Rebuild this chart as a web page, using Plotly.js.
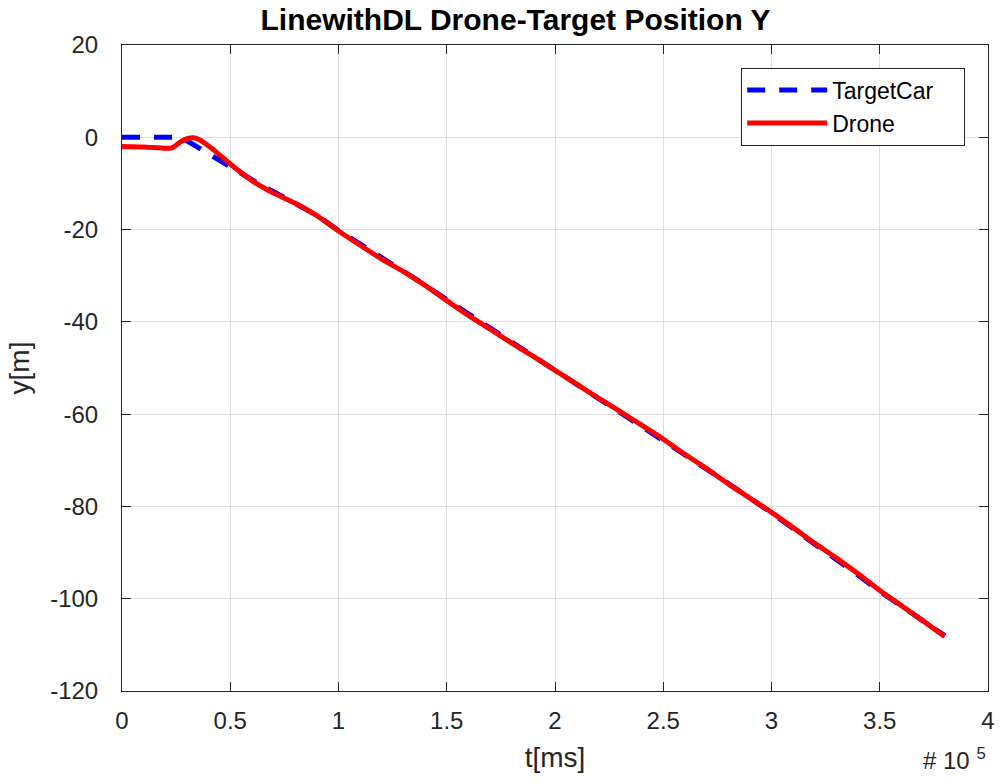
<!DOCTYPE html>
<html><head><meta charset="utf-8">
<script src="https://cdn.plot.ly/plotly-3.0.1.min.js"></script>
<style>html,body{margin:0;padding:0;background:#fff}#chart{width:1003px;height:780px}</style>
</head><body><div id="chart"></div>
<script>
// time in units of 1e5 ms
const targetT = [0, 0.1, 0.2, 0.27, 0.33, 0.4, 0.5, 0.6, 0.7, 0.8, 0.9, 1.0, 1.1, 1.2, 1.3, 1.4, 1.5, 1.6, 1.7, 1.8, 1.9, 2.0, 2.1, 2.2, 2.3, 2.4, 2.5, 2.6, 2.7, 2.8, 2.9, 3.0, 3.1, 3.2, 3.3, 3.4, 3.5, 3.6, 3.7, 3.8];
const targetY = [0, 0, 0, 0, -1.6, -3.6, -6.4, -9.2, -11.8, -14.2, -16.9, -20.2, -23.1, -26.1, -29.0, -32.0, -35.2, -38.3, -41.4, -44.5, -47.6, -50.6, -53.6, -56.6, -59.6, -62.6, -65.7, -68.8, -71.9, -75.0, -78.1, -81.4, -84.8, -88.1, -91.4, -94.9, -98.4, -101.7, -104.9, -108.0];
const droneT = [0, 0.1, 0.2, 0.23, 0.27, 0.3, 0.33, 0.36, 0.4, 0.45, 0.5, 0.6, 0.7, 0.8, 0.9, 1.0, 1.1, 1.2, 1.3, 1.4, 1.5, 1.6, 1.7, 1.8, 1.9, 2.0, 2.1, 2.2, 2.3, 2.4, 2.5, 2.6, 2.7, 2.8, 2.9, 3.0, 3.1, 3.2, 3.3, 3.4, 3.5, 3.6, 3.7, 3.8];
const droneY = [-2.0, -2.1, -2.4, -2.3, -1.0, -0.3, -0.1, -0.6, -1.9, -3.8, -5.8, -9.4, -12.1, -14.3, -17.0, -20.3, -23.4, -26.4, -29.1, -32.1, -35.4, -38.6, -41.6, -44.6, -47.5, -50.5, -53.5, -56.5, -59.4, -62.4, -65.4, -68.7, -71.8, -75.1, -78.2, -81.3, -84.6, -88.0, -91.2, -94.6, -98.2, -101.5, -104.8, -108.2];
const xTicks = [0, 0.5, 1, 1.5, 2, 2.5, 3, 3.5, 4];
const xTickText = ['0', '0.5', '1', '1.5', '2', '2.5', '3', '3.5', '4'];
const yTicks = [20, 0, -20, -40, -60, -80, -100, -120];
const yTickText = ['20', '0', '-20', '-40', '-60', '-80', '-100', '-120'];

const font = 'Liberation Sans, Arial, sans-serif';
const pad = '\u00a0\u00a0\u00a0\u00a0';
const data = [
  {x: targetT, y: targetY, type: 'scatter', mode: 'lines', name: 'TargetCar' + pad,
   line: {color: '#0000ff', width: 5, dash: '18px,14px'}},
  {x: droneT, y: droneY, type: 'scatter', mode: 'lines', name: 'Drone',
   line: {color: '#ff0000', width: 5, shape: 'spline', smoothing: 0.6}}
];
const axisCommon = {
  showline: true, linecolor: '#262626', linewidth: 1, mirror: 'ticks',
  ticks: 'inside', ticklen: 9, tickcolor: '#262626',
  showgrid: true, gridcolor: '#dedede', gridwidth: 1, zeroline: false,
  tickfont: {family: font, size: 24, color: '#262626'}
};
const layout = {
  width: 1003, height: 780,
  margin: {l: 122, r: 15, t: 45, b: 89},
  paper_bgcolor: '#ffffff', plot_bgcolor: '#ffffff',
  title: {text: '<b>LinewithDL Drone-Target Position Y</b>', x: 0.514, xanchor: 'center', y: 0.975, yanchor: 'middle',
          font: {family: 'Liberation Sans Narrow, Arial Narrow, Liberation Sans, sans-serif', size: 30, color: '#000'}},
  xaxis: Object.assign({}, axisCommon, {range: [0, 4], tickvals: xTicks, ticktext: xTickText, ticklabelstandoff: 8,
    title: {text: 't[ms]', font: {family: font, size: 28, color: '#262626'}, standoff: 14}}),
  yaxis: Object.assign({}, axisCommon, {range: [-120, 20], tickvals: yTicks, ticktext: yTickText, ticklabelstandoff: 18,
    title: {text: 'y[m]', font: {family: font, size: 28, color: '#262626'}, standoff: 12}}),
  showlegend: true,
  legend: {x: 0.715, y: 0.965, xanchor: 'left', yanchor: 'top', bgcolor: '#ffffff',
    bordercolor: '#262626', borderwidth: 1, itemwidth: 80,
    font: {family: font, size: 23, color: '#000'}, tracegroupgap: 0},
  annotations: [{text: '# 10 <sup>5</sup>', xref: 'paper', yref: 'paper', x: 1.0, y: -0.131,
    xanchor: 'right', yanchor: 'bottom', showarrow: false, font: {family: font, size: 24, color: '#262626'}}]
};
Plotly.newPlot('chart', data, layout, {displayModeBar: false, staticPlot: true});
</script></body></html>
